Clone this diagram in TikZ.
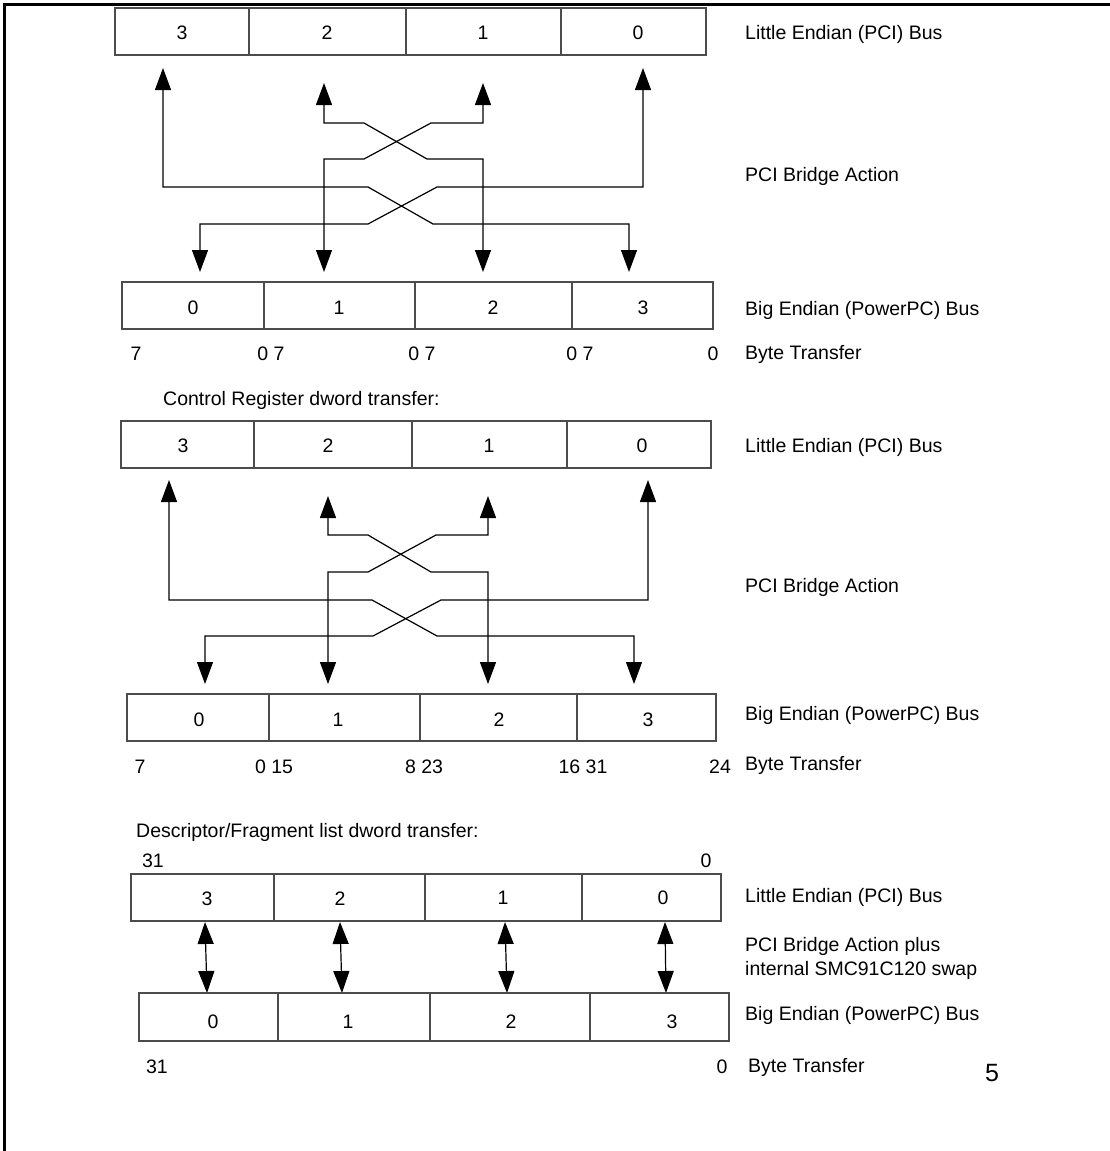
\documentclass[tikz,border=0pt]{standalone}
\usepackage{fontspec}
\setmainfont{Liberation Sans}
\usetikzlibrary{arrows.meta}
\newcommand\mycell[8]{%
  \node[cellbox, minimum width={(#3)-(#2)}, minimum height={(#5)-(#4)}] (#1) at (#2,#4) {};
  \node[clbl] (#1t) at (#7,#8) {#6};}
\begin{document}
\begin{tikzpicture}[x=1pt,y=-1pt,
  every node/.style={font=\fontsize{19.5}{24}\selectfont, text=black},
  cellbox/.style={draw=black!70, line width=1.1pt, inner sep=0pt, outer sep=0pt, anchor=north west},
  lbl/.style={anchor=base west, inner sep=0pt, yshift=-7pt},
  clbl/.style={anchor=base, inner sep=0pt, yshift=-7pt},
  link/.style={line width=1.2pt, {Triangle[length=22pt,width=16pt]}-{Triangle[length=22pt,width=16pt]}},
]
\useasboundingbox (0,0) rectangle (1110,1151);
% frame
\draw[line width=2.7pt] (4.5,1151) -- (4.5,4.5) -- (1110,4.5);

% ---------------- Section 1 ----------------
\mycell{a3}{115}{249}{8}{55}{3}{182}{32}
\mycell{a2}{249}{406}{8}{55}{2}{327}{32}
\mycell{a1}{406}{561}{8}{55}{1}{483}{32}
\mycell{a0}{561}{706}{8}{55}{0}{638}{32}
\node[lbl] (a-lab) at (745,32) {Little Endian (PCI) Bus};
\node[lbl] (a-act) at (745,174) {PCI Bridge Action};

\coordinate (p1u3) at (163,68);
\coordinate (p1u2) at (324,83);
\coordinate (p1u1) at (483,83);
\coordinate (p1u0) at (643,68);
\coordinate (p1d0) at (200,272);
\coordinate (p1d1) at (324,272);
\coordinate (p1d2) at (483,272);
\coordinate (p1d3) at (629,272);
\draw[link] (p1u3) -- (163,187) -- (368,187) -- (433,224) -- (629,224) -- (p1d3);
\draw[link] (p1u0) -- (643,187) -- (437,187) -- (368,224) -- (200,224) -- (p1d0);
\draw[link] (p1u2) -- (324,123) -- (364,123) -- (427,159) -- (483,159) -- (p1d2);
\draw[link] (p1u1) -- (483,123) -- (431,123) -- (364,159) -- (324,159) -- (p1d1);

\mycell{b0}{122}{264}{282}{329}{0}{193}{307}
\mycell{b1}{264}{415}{282}{329}{1}{339}{307}
\mycell{b2}{415}{572}{282}{329}{2}{493}{307}
\mycell{b3}{572}{713}{282}{329}{3}{643}{307}
\node[lbl] (b-lab) at (745,308) {Big Endian (PowerPC) Bus};
\node[clbl] (b-n0) at (136,353) {7};
\node[clbl] (b-n1) at (271,353) {0 7};
\node[clbl] (b-n2) at (422,353) {0 7};
\node[clbl] (b-n3) at (580,353) {0 7};
\node[clbl] (b-n4) at (713,353) {0};
\node[lbl] (b-bt) at (745,352) {Byte Transfer};

% ---------------- Section 2 ----------------
\node[lbl] (c-title) at (163,398) {Control Register dword transfer:};
\mycell{c3}{121}{254}{421}{468}{3}{183}{445}
\mycell{c2}{254}{412}{421}{468}{2}{328}{445}
\mycell{c1}{412}{567}{421}{468}{1}{489}{445}
\mycell{c0}{567}{711}{421}{468}{0}{642}{445}
\node[lbl] (c-lab) at (745,445) {Little Endian (PCI) Bus};
\node[lbl] (c-act) at (745,585) {PCI Bridge Action};

\coordinate (p2u3) at (169,480);
\coordinate (p2u2) at (328,496);
\coordinate (p2u1) at (488,496);
\coordinate (p2u0) at (648,480);
\coordinate (p2d0) at (205,684);
\coordinate (p2d1) at (328,684);
\coordinate (p2d2) at (488,684);
\coordinate (p2d3) at (634,684);
\draw[link] (p2u3) -- (169,600) -- (372,600) -- (437,636) -- (634,636) -- (p2d3);
\draw[link] (p2u0) -- (648,600) -- (441,600) -- (373,636) -- (205,636) -- (p2d0);
\draw[link] (p2u2) -- (328,535) -- (368,535) -- (431,572) -- (488,572) -- (p2d2);
\draw[link] (p2u1) -- (488,535) -- (436,535) -- (368,572) -- (328,572) -- (p2d1);

\mycell{d0}{127}{269}{694}{741}{0}{199}{719}
\mycell{d1}{269}{420}{694}{741}{1}{338}{719}
\mycell{d2}{420}{577}{694}{741}{2}{499}{719}
\mycell{d3}{577}{716}{694}{741}{3}{648}{719}
\node[lbl] (d-lab) at (745,713) {Big Endian (PowerPC) Bus};
\node[clbl] (d-n0) at (140,766) {7};
\node[clbl] (d-n1) at (274,766) {0 15};
\node[clbl] (d-n2) at (424,766) {8 23};
\node[clbl] (d-n3) at (583,766) {16 31};
\node[clbl] (d-n4) at (720,766) {24};
\node[lbl] (d-bt) at (745,763) {Byte Transfer};

% ---------------- Section 3 ----------------
\node[lbl] (e-title) at (136,830) {Descriptor/Fragment list dword transfer:};
\node[clbl] (e-hi) at (153,860) {31};
\node[clbl] (e-lo) at (706,860) {0};
\mycell{e3}{131}{274}{874}{921}{3}{207}{898}
\mycell{e2}{274}{425}{874}{921}{2}{340}{898}
\mycell{e1}{425}{582}{874}{921}{1}{503}{897}
\mycell{e0}{582}{721}{874}{921}{0}{663}{897}
\node[lbl] (e-lab) at (745,895) {Little Endian (PCI) Bus};
\node[anchor=north west, align=left, inner sep=0pt] (e-act) at (745,937)
  {PCI Bridge Action plus\\internal SMC91C120 swap};

\coordinate (p3u3) at (205,922);
\coordinate (p3u2) at (340,922);
\coordinate (p3u1) at (505,922);
\coordinate (p3u0) at (665,922);
\coordinate (p3d0) at (207,993);
\coordinate (p3d1) at (342,993);
\coordinate (p3d2) at (507,993);
\coordinate (p3d3) at (666,993);
\draw[link] (p3u3) -- (p3d0);
\draw[link] (p3u2) -- (p3d1);
\draw[link] (p3u1) -- (p3d2);
\draw[link] (p3u0) -- (p3d3);

\mycell{f0}{139}{278}{993}{1041}{0}{213}{1021}
\mycell{f1}{278}{430}{993}{1041}{1}{348}{1021}
\mycell{f2}{430}{590}{993}{1041}{2}{511}{1021}
\mycell{f3}{590}{729}{993}{1041}{3}{672}{1021}
\node[lbl] (f-lab) at (745,1013) {Big Endian (PowerPC) Bus};
\node[clbl] (f-hi) at (157,1066) {31};
\node[clbl] (f-lo) at (722,1066) {0};
\node[lbl] (f-bt) at (748,1065) {Byte Transfer};
\node[clbl, font=\fontsize{25}{30}\selectfont, yshift=-2pt] (pg) at (992,1072) {5};
\end{tikzpicture}
\end{document}
